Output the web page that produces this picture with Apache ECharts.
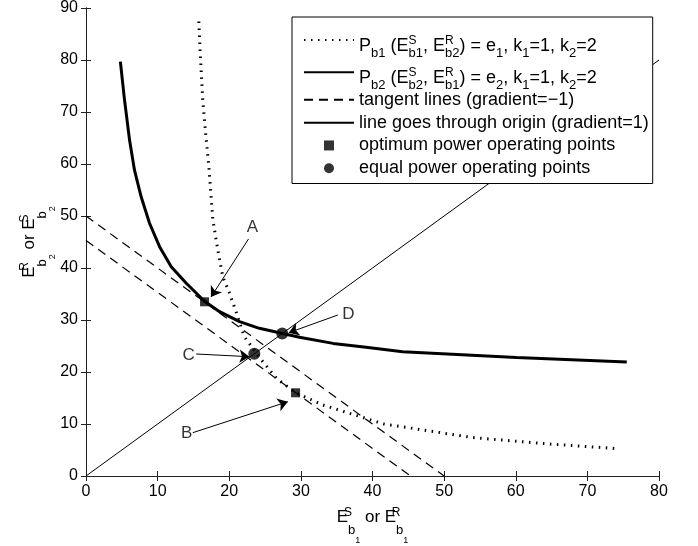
<!DOCTYPE html>
<html>
<head>
<meta charset="utf-8">
<script src="https://cdn.jsdelivr.net/npm/echarts@6/dist/echarts.min.js"></script>
<style>
html, body { margin: 0; padding: 0; background: #ffffff; }
#chart { width: 698px; height: 546px; }
</style>
</head>
<body>
<div id="chart"></div>
<script>
// ---------------- data ----------------
// P_b1 curve (dotted)
const pb1X = [15.75, 15.95, 16.3, 16.7, 17.15, 17.7, 18.4, 19.1, 20.0, 20.9, 22.1, 24.5, 26.6, 29.26, 33.1, 36.8, 41.6, 53.9, 64.7, 73.8];
const pb1Y = [87.4, 81.3, 72.3, 65.9, 59.5, 49.4, 43.5, 38.3, 35.3, 31.8, 26.8, 22.3, 18.8, 16.0, 13.65, 12.05, 10.0, 7.4, 6.15, 5.3];
// P_b2 curve (thick solid)
const pb2X = [4.8, 5.38, 6.08, 6.77, 7.7, 8.87, 10.27, 11.9, 14.0, 16.55, 18.65, 21.44, 24.2, 27.3, 29.8, 34.5, 39.1, 44.2, 60.1, 75.5];
const pb2Y = [79.7, 72.3, 64.6, 58.8, 53.7, 48.6, 44.1, 40.25, 37.06, 33.6, 31.6, 29.7, 28.4, 27.45, 26.7, 25.5, 24.75, 23.9, 22.8, 21.9];
// tangent lines (gradient -1)
const tangent1X = [0, 50];
const tangent1Y = [50, 0];
const tangent2X = [0, 45.3];
const tangent2Y = [45.3, 0];
// line through origin (gradient 1)
const originX = [0, 80];
const originY = [0, 80];
// optimum power operating points (squares)
const optimumX = [16.55, 29.26];
const optimumY = [33.5, 16.0];
// equal power operating points (circles)
const equalX = [23.5, 27.4];
const equalY = [23.5, 27.4];
// annotation letters
const noteNames = ['A', 'B', 'C', 'D'];
const noteX = [23.25, 14.07, 14.34, 36.65];
const noteY = [47.8, 8.13, 23.27, 31.15];
// annotation arrows (tail -> tip)
const arrowFromX = [22.69, 14.91, 15.39, 35.16];
const arrowFromY = [45.58, 8.33, 23.46, 30.96];
const arrowToX = [17.45, 28.18, 22.83, 28.31];
const arrowToY = [34.42, 14.29, 22.94, 27.56];
// axes
const xMin = 0, xMax = 80, xStep = 10;
const yMin = 0, yMax = 90, yStep = 10;

// ---------------- helpers ----------------
const FONT = '"Liberation Sans", Arial, Helvetica, sans-serif';
const INK = '#000000';
function zip(xs, ys) { return xs.map((x, i) => [x, ys[i]]); }
// rich-text token, top aligned in a line of height lh, text centre placed pt + 0.5 below the line top
function tokTop(size, lh, pt, extra) {
  return Object.assign({ fontSize: size, fontFamily: FONT, color: INK, lineHeight: lh, height: 1,
    verticalAlign: 'top', padding: [pt, 0, 0, 0] }, extra || {});
}
// rich-text token, centred in a line of height lh, text centre moved by shift (down positive)
function tokMid(size, lh, shift, extra) {
  const pad = shift >= 0 ? [2 * shift, 0, 0, 0] : [0, 0, -2 * shift, 0];
  return Object.assign({ fontSize: size, fontFamily: FONT, color: INK, lineHeight: lh, height: 1,
    verticalAlign: 'middle', padding: pad }, extra || {});
}

const N1 = 'Pb1 (ESb1, ERb2) = e1, k1=1, k2=2';
const N2 = 'Pb2 (ESb2, ERb1) = e2, k1=1, k2=2';
const N3 = 'tangent lines (gradient=\u22121)';
const N4 = 'line goes through origin (gradient=1)';
const N5 = 'optimum power operating points';
const N6 = 'equal power operating points';

const legendRichText = {};
legendRichText[N1] = '{m|P}{s|b1}{m| (E}{p|S}{s|b1}{m|, E}{p|R}{s|b2}{m|) = e}{s|1}{m|, k}{s|1}{m|=1, k}{s|2}{m|=2}';
legendRichText[N2] = '{m|P}{s|b2}{m| (E}{p|S}{s|b2}{m|, E}{p|R}{s|b1}{m|) = e}{s|2}{m|, k}{s|1}{m|=1, k}{s|2}{m|=2}';

const legendRich = {
  m: tokMid(18, 40, 6.05),
  s: tokMid(13, 40, 13.5),
  p: tokMid(12, 40, 0.45, { width: 0 })
};
const axisRich = {
  m: tokTop(17, 40, 11.55),
  p: tokTop(12, 40, 6.7, { width: 0 }),
  b: tokTop(13, 40, 25),
  bb: tokTop(9, 40, 34.7)
};

const squareIcon = 'path://M0,0 L10,0 L10,10 L0,10 Z';
const hiddenDot = { color: 'rgba(0,0,0,0)', borderColor: 'rgba(0,0,0,0)', borderWidth: 0, opacity: 0 };

const chart = echarts.init(document.getElementById('chart'), null, { renderer: 'canvas' });

const tickCommon = { show: true, inside: true, length: 5, lineStyle: { color: '#222', width: 1 } };
const lineCommon = { show: true, lineStyle: { color: '#222', width: 1 } };

const option = {
  animation: false,
  backgroundColor: '#ffffff',
  textStyle: { fontFamily: FONT, color: INK },
  grid: { left: 86, right: 39, top: 8, bottom: 70, containLabel: false, outerBoundsMode: 'none' },
  xAxis: [
    {
      type: 'value', min: xMin, max: xMax, interval: xStep, position: 'bottom',
      axisLine: lineCommon, axisTick: tickCommon, splitLine: { show: false },
      axisLabel: { fontSize: 16, color: INK, fontFamily: FONT, margin: 8 },
      name: '{m|E}{p|S}{b|b}{bb|1}{m| or E}{p|R}{b|b}{bb|1}',
      nameLocation: 'middle', nameGap: 29, nameMoveOverlap: false,
      nameTextStyle: { fontSize: 17, fontFamily: FONT, color: INK, rich: axisRich }
    },
    {
      type: 'value', min: xMin, max: xMax, interval: xStep, position: 'top',
      axisLine: lineCommon, axisTick: tickCommon, splitLine: { show: false },
      axisLabel: { show: false }
    }
  ],
  yAxis: [
    {
      type: 'value', min: yMin, max: yMax, interval: yStep, position: 'left',
      axisLine: lineCommon, axisTick: tickCommon, splitLine: { show: false },
      axisLabel: { fontSize: 16, color: INK, fontFamily: FONT, margin: 8 },
      name: '{m|E}{p|R}{b|b}{bb|2}{m| or E}{p|S}{b|b}{bb|2}',
      nameLocation: 'middle', nameRotate: 90, nameGap: 29, nameMoveOverlap: false,
      nameTextStyle: { fontSize: 17, fontFamily: FONT, color: INK, rich: axisRich }
    },
    {
      type: 'value', min: yMin, max: yMax, interval: yStep, position: 'right',
      axisLine: lineCommon, axisTick: tickCommon, splitLine: { show: false },
      axisLabel: { show: false }
    }
  ],
  legend: {
    orient: 'vertical', left: 292, top: 17,
    padding: [3, 4, 0, 11], itemGap: -7.7, itemWidth: 50, itemHeight: 10,
    backgroundColor: '#ffffff', borderColor: '#000', borderWidth: 1, borderRadius: 0,
    selectedMode: false,
    textStyle: { fontFamily: FONT, fontSize: 18, color: INK, lineHeight: 30.5, rich: legendRich },
    formatter: function (name) { return legendRichText[name] || name; },
    data: [
      { name: N1, itemStyle: hiddenDot },
      { name: N2, itemStyle: hiddenDot },
      { name: N3, itemStyle: hiddenDot },
      { name: N4, itemStyle: hiddenDot },
      { name: N5, icon: squareIcon },
      { name: N6, icon: 'circle' }
    ]
  },
  series: [
    {
      name: N1, type: 'line', data: zip(pb1X, pb1Y), symbol: 'none', z: 3,
      itemStyle: { color: INK },
      lineStyle: { color: INK, width: 3, type: [1.5, 5.5], cap: 'butt' }
    },
    {
      name: N2, type: 'line', data: zip(pb2X, pb2Y), symbol: 'none', z: 4,
      itemStyle: { color: INK },
      lineStyle: { color: INK, width: 3, type: 'solid', cap: 'butt' }
    },
    {
      name: N3, type: 'line', data: zip(tangent1X, tangent1Y), symbol: 'none', z: 2,
      itemStyle: { color: INK },
      lineStyle: { color: INK, width: 1.2, type: [9, 6] }
    },
    {
      name: N3, type: 'line', data: zip(tangent2X, tangent2Y), symbol: 'none', z: 2,
      itemStyle: { color: INK },
      lineStyle: { color: INK, width: 1.2, type: [9, 6] }
    },
    {
      name: N4, type: 'line', data: zip(originX, originY), symbol: 'none', z: 2,
      itemStyle: { color: INK },
      lineStyle: { color: INK, width: 1, type: 'solid' }
    },
    {
      name: N5, type: 'scatter', data: zip(optimumX, optimumY), symbol: 'rect', symbolSize: 9, z: 6,
      itemStyle: { color: INK }
    },
    {
      name: N6, type: 'scatter', data: zip(equalX, equalY), symbol: 'circle', symbolSize: 12, z: 6,
      itemStyle: { color: INK }
    },
    {
      name: 'annotation arrows', type: 'line', data: [], symbol: 'none', z: 5,
      itemStyle: { color: INK },
      markLine: {
        silent: true, animation: false,
        symbol: ['none', 'arrow'], symbolSize: 10,
        itemStyle: { color: INK },
        lineStyle: { color: INK, width: 1, type: 'solid' },
        label: { show: false },
        emphasis: { disabled: true },
        data: arrowFromX.map((x, i) => [
          { coord: [x, arrowFromY[i]], symbol: 'none' },
          { coord: [arrowToX[i], arrowToY[i]], symbol: 'arrow', symbolSize: 10 }
        ])
      }
    },
    {
      name: 'annotation letters', type: 'scatter', symbolSize: 0, z: 7, silent: true,
      data: noteNames.map((n, i) => ({ name: n, value: [noteX[i], noteY[i]] })),
      label: { show: true, position: 'inside', formatter: '{b}', fontSize: 17, fontFamily: FONT, color: INK }
    }
  ]
};
chart.setOption(option);
</script>
</body>
</html>
